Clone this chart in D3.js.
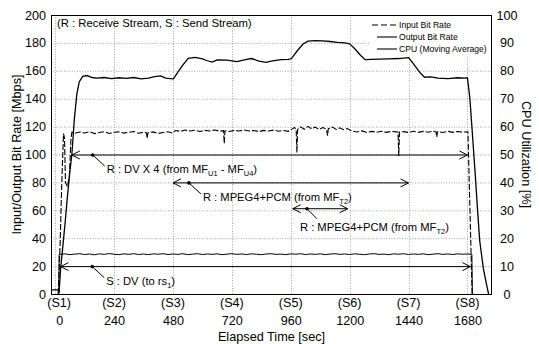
<!DOCTYPE html>
<html><head><meta charset="utf-8">
<script src="https://cdn.jsdelivr.net/npm/d3@7"></script>
<style>body{margin:0;background:#fff}text{font-family:"Liberation Sans",Arial,sans-serif;fill:#000}</style>
</head><body>
<script>
// ---------- data ----------
const xTickValues = [0,240,480,720,960,1200,1440,1680];
const xTickNames = ["(S1)","(S2)","(S3)","(S4)","(S5)","(S6)","(S7)","(S8)"];
const yTickValues = [0,20,40,60,80,100,120,140,160,180,200];
const y2TickValues = [0,10,20,30,40,50,60,70,80,90,100];
const legendNames = ["Input Bit Rate","Output Bit Rate","CPU (Moving Average)"];

// Input bit rate [Mbps] : [time s, value]
const inputRate = [[12,0],[20,35],[27,80],[34,115],[38,112],[42,80],[50,77],[58,85],[64,110],[68,116],
[80,115.2],[100,116.1],[120,115.4],[140,116.3],[160,115.0],[180,115.8],[200,116.4],[220,115.1],[240,115.9],[260,116.2],
[280,115.3],[300,115.9],[320,116.5],[340,115.2],[360,116.0],[372,115.4],[375,111.5],[378,115.6],[400,116.2],[420,115.1],
[440,115.8],[460,116.3],[478,115.4],[490,117.2],[510,116.6],[530,117.5],[550,116.8],[570,117.4],[590,116.5],[610,117.3],
[630,116.9],[650,117.6],[670,116.7],[686,117.1],[689,108],[692,117],[710,116.5],[730,117.3],[750,116.8],[770,117.6],
[790,116.9],[810,117.2],[830,116.4],[850,117.3],[870,116.8],[890,117.5],[910,116.7],[930,117.2],[950,116.6],[965,118.2],
[975,119.4],[982,117.8],[985,101.5],[988,118.0],[1000,119.8],[1015,118.1],[1030,120.2],[1045,118.4],[1060,119.6],[1075,117.9],
[1090,119.3],[1105,118.2],[1110,113.5],[1113,118.5],[1130,119.7],[1145,118.0],[1160,119.1],[1175,117.8],[1190,118.6],[1210,116.8],
[1230,116.1],[1250,116.9],[1270,115.8],[1290,116.6],[1310,116.0],[1330,116.7],[1350,115.9],[1370,116.5],[1390,116.2],[1397,116.0],
[1400,99],[1403,116.1],[1420,116.4],[1440,115.8],[1460,116.7],[1480,115.9],[1500,116.6],[1520,116.0],[1540,116.8],[1552,116.2],
[1555,112.5],[1558,116.3],[1580,115.8],[1600,116.6],[1620,115.9],[1640,116.5],[1660,116.0],[1682,116.3],[1699,0]];

// Output bit rate [Mbps]
const outputRate = [[15,0],[16,28.3],[40,28.8],[60,28.2],[80,28.6],[100,28.9],[120,28.3],[140,28.7],[160,28.1],[180,28.8],
[200,28.4],[220,29.0],[240,28.5],[260,28.2],[280,28.8],[300,28.4],[320,28.9],[340,28.3],[360,28.7],[380,28.2],
[400,28.8],[420,28.5],[440,28.9],[460,28.3],[480,28.7],[500,28.4],[520,28.9],[540,28.2],[560,28.6],[580,28.9],
[600,28.3],[620,28.7],[640,28.4],[660,28.8],[680,28.2],[700,28.6],[720,28.9],[740,28.4],[760,28.7],[780,28.3],
[800,28.8],[820,28.5],[840,28.2],[860,28.7],[880,28.9],[900,28.4],[920,28.6],[940,28.2],[960,28.8],[980,28.5],
[1000,28.9],[1020,28.3],[1040,28.7],[1060,28.4],[1080,28.8],[1100,28.2],[1120,28.6],[1140,28.9],[1160,28.4],[1180,28.7],
[1200,28.3],[1220,28.8],[1240,28.5],[1260,28.2],[1280,28.7],[1300,28.9],[1320,28.4],[1340,28.6],[1360,28.2],[1380,28.8],
[1400,28.5],[1420,28.9],[1440,28.3],[1460,28.7],[1480,28.4],[1500,28.8],[1520,28.2],[1540,28.6],[1560,28.9],[1580,28.4],
[1600,28.7],[1620,28.3],[1640,28.8],[1660,28.5],[1680,28.7],[1698,28.4],[1700,0]];

// CPU utilization (moving average) [%]
const cpuUtil = [[-17,1.5],[14,1.5],[16,0.5],[22,9],[30,16],[40,25],[50,35],[60,44],[68,50],[78,62.5],
[88,71.5],[98,76],[112,78],[130,78.3],[150,77.6],[170,77.4],[200,77.6],[230,77.2],[260,77.5],[290,77.3],
[320,77.6],[350,77.1],[380,77.4],[405,77.9],[430,78.2],[450,77.4],[470,77.2],[482,77.1],[500,79.5],[520,82],
[542,84.5],[570,84.8],[600,84.3],[620,83.6],[640,83.1],[660,83.9],[700,83.8],[740,83.3],[780,84.1],[800,84.4],
[830,83.5],[860,83.0],[880,83.5],[920,84.0],[950,84.1],[963,84.4],[985,87],[1010,89.6],[1030,90.6],[1060,90.8],
[1090,90.7],[1120,90.5],[1150,90.2],[1180,90.0],[1200,89.7],[1220,88],[1245,85.5],[1263,84],[1290,84.1],[1320,84.2],
[1360,84.3],[1400,84.4],[1440,84.7],[1460,82.5],[1485,79.5],[1505,77.7],[1530,77.8],[1560,77.4],[1600,77.2],[1640,77.5],
[1670,77.4],[1680,77.5],[1690,70],[1700,57.5],[1712,42.5],[1722,29],[1730,19],[1745,9],[1760,2.5],[1766,0]];

// Annotations: [start time, end time, rate, dot time]
const spanStart = [68, 480, 968, 22];
const spanEnd   = [1680, 1440, 1192, 1692];
const spanRate  = [100, 80, 61.5, 20];
const spanDot   = [153, 545, 1026, 151];
const spanLabel = [
  [["R : DV X 4 (from MF",""],["U1","sub"],[" - MF",""],["U4","sub"],[")",""]],
  [["R : MPEG4+PCM (from MF",""],["T2","sub"],[")",""]],
  [["R : MPEG4+PCM (from MF",""],["T2","sub"],[")",""]],
  [["S : DV (to rs",""],["1","sub"],[")",""]]
];
const noteText = "(R : Receive Stream, S : Send Stream)";

// ---------- layout ----------
const W = 539, H = 344;
const L = 51, R = 492, T = 15, B = 294;
const x = d3.scaleLinear().domain([-17, 1780]).range([L, R]);
const y = d3.scaleLinear().domain([0, 200]).range([B, T]);
const y2 = d3.scaleLinear().domain([0, 100]).range([B, T]);
const labelShift = (d, i) => (i === 0 ? 4 : 0);

const svg = d3.select("body").append("svg").attr("width", W).attr("height", H);
svg.append("rect").attr("width", W).attr("height", H).attr("fill", "#fff");

svg.append("defs").append("clipPath").attr("id", "clip")
  .append("rect").attr("x", L).attr("y", T).attr("width", R - L).attr("height", B - T);

// grid
const grid = svg.append("g").attr("stroke", "#8c8c8c").attr("stroke-width", 0.8).attr("stroke-dasharray", "1,1.6");
grid.selectAll("line.h").data(yTickValues.slice(1, -1)).join("line")
  .attr("x1", L).attr("x2", R).attr("y1", d => y(d) + 0.5).attr("y2", d => y(d) + 0.5);
grid.selectAll("line.v").data(xTickValues).join("line")
  .attr("y1", T).attr("y2", B).attr("x1", d => Math.round(x(d)) + 0.5).attr("x2", d => Math.round(x(d)) + 0.5);

const fam = '"Liberation Sans",Arial,sans-serif';
// axes labels
const axL = svg.append("g").attr("transform", `translate(${L},0)`)
  .call(d3.axisLeft(y).tickValues(yTickValues).tickSize(0).tickPadding(5));
axL.select(".domain").remove();
axL.selectAll("text").style("font-size", "12.6px").style("font-family", fam);

const axR = svg.append("g").attr("transform", `translate(${R},0)`)
  .call(d3.axisRight(y2).tickValues(y2TickValues).tickSize(0).tickPadding(15));
axR.select(".domain").remove();
axR.selectAll("text").attr("text-anchor", "middle").style("font-size", "12.6px").style("font-family", fam);

const axB = svg.append("g").attr("transform", `translate(0,${B})`)
  .call(d3.axisBottom(x).tickValues(xTickValues).tickSize(0).tickFormat(d => d));
axB.select(".domain").remove();
axB.selectAll("text").style("font-size", "12.6px").style("font-family", fam)
  .attr("y", 22).attr("x", labelShift);
svg.append("g").selectAll("text").data(xTickValues).join("text")
  .attr("x", (d, i) => x(d) + labelShift(d, i)).attr("y", 307).attr("text-anchor", "middle").style("font-size", "12.6px")
  .text((d, i) => xTickNames[i]);

svg.append("text").attr("x", (L + R) / 2).attr("y", 341).attr("text-anchor", "middle")
  .style("font-size", "12.7px").text("Elapsed Time [sec]");
svg.append("text").attr("transform", `translate(21,${(T + B) / 2}) rotate(-90)`).attr("text-anchor", "middle")
  .style("font-size", "12.7px").text("Input/Output Bit Rate [Mbps]");
svg.append("text").attr("transform", `translate(522,${(T + B) / 2}) rotate(90)`).attr("text-anchor", "middle")
  .style("font-size", "12.7px").text("CPU Utilization [%]");

// data lines
const plot = svg.append("g").attr("clip-path", "url(#clip)");
const line = d3.line().x(d => x(d[0])).y(d => y(d[1]));
const line2 = d3.line().x(d => x(d[0])).y(d => y2(d[1]));
plot.append("path").datum(outputRate).attr("d", line).attr("fill", "none").attr("stroke", "#000").attr("stroke-width", 1);
plot.append("path").datum(inputRate).attr("d", line).attr("fill", "none").attr("stroke", "#000").attr("stroke-width", 1.1)
  .attr("stroke-dasharray", "6,2");
plot.append("path").datum(cpuUtil).attr("d", line2).attr("fill", "none").attr("stroke", "#000").attr("stroke-width", 1.3);

// annotations (leader end offset and text offset per label, in px)
const leadDx = [12, 12, 10, 12], leadDy = [11, 11, 10, 11];
const textDx = [14, 14, -7, 14], textDy = [18, 18, 22, 18];
const ann = svg.append("g");
spanRate.forEach((r, i) => {
  const yy = y(r) + 0.5, x0 = x(spanStart[i]), x1 = x(spanEnd[i]), xd = x(spanDot[i]);
  ann.append("line").attr("x1", x0).attr("x2", x1).attr("y1", yy).attr("y2", yy).attr("stroke", "#000").attr("stroke-width", 1);
  ann.append("path").attr("d", `M${x0 + 8},${yy - 4}L${x0},${yy}L${x0 + 8},${yy + 4}`).attr("fill", "none").attr("stroke", "#000");
  ann.append("path").attr("d", `M${x1 - 8},${yy - 4}L${x1},${yy}L${x1 - 8},${yy + 4}`).attr("fill", "none").attr("stroke", "#000");
  ann.append("circle").attr("cx", xd).attr("cy", yy).attr("r", 1.8).attr("fill", "#000");
  ann.append("line").attr("x1", xd).attr("y1", yy).attr("x2", xd + leadDx[i]).attr("y2", yy + leadDy[i]).attr("stroke", "#000");
  const t = ann.append("text").attr("x", xd + textDx[i]).attr("y", yy + textDy[i]).style("font-size", "11.2px");
  spanLabel[i].forEach(p => {
    const s = t.append("tspan").text(p[0]);
    if (p[1] === "sub") s.attr("baseline-shift", "-3").style("font-size", "7.5px");
  });
});

svg.append("text").attr("x", 57).attr("y", 27).style("font-size", "11.3px").text(noteText);

// legend
svg.append("rect").attr("x", 370).attr("y", T + 1).attr("width", R - 371).attr("height", 39).attr("fill", "#fff");
const lg = svg.append("g");
legendNames.forEach((n, i) => {
  const ly = 25 + i * 12;
  lg.append("line").attr("x1", i === 0 ? 372 : 377).attr("x2", 397).attr("y1", ly).attr("y2", ly)
    .attr("stroke", "#000").attr("stroke-width", 1.1).attr("stroke-dasharray", i === 0 ? "6,3" : null);
  lg.append("text").attr("x", 399).attr("y", ly + 3).style("font-size", "8.6px").text(n);
});

// frame
svg.append("rect").attr("x", L + 0.5).attr("y", T + 0.5).attr("width", R - L - 1).attr("height", B - T).attr("fill", "none")
  .attr("stroke", "#000").attr("stroke-width", 1);
</script>
</body></html>
